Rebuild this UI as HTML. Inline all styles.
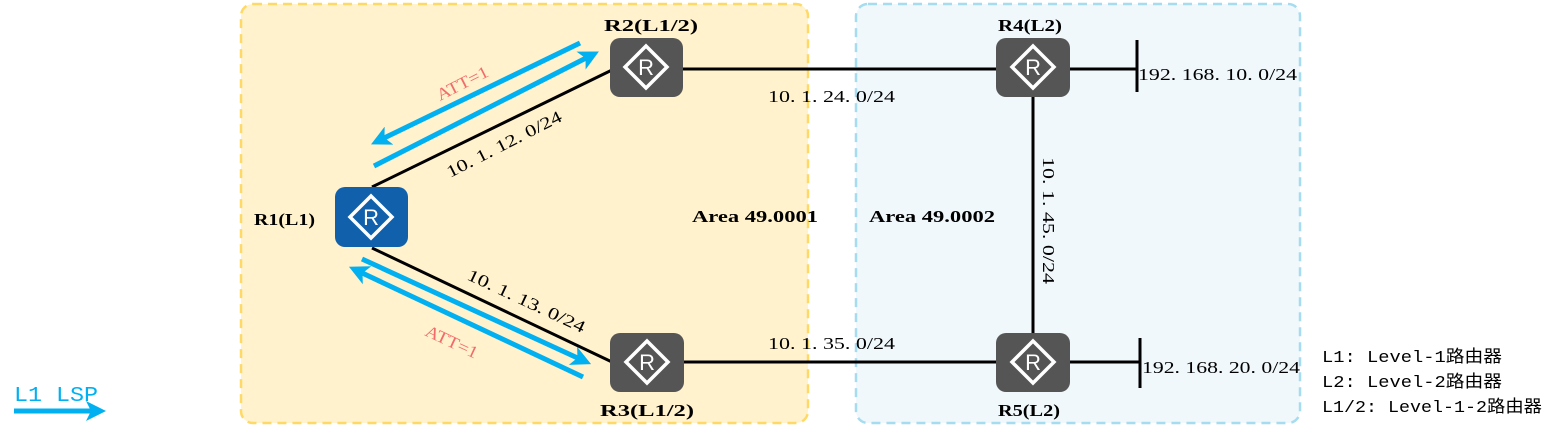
<!DOCTYPE html>
<html><head><meta charset="utf-8"><style>
body{margin:0;background:#fff}
text{font-family:"Liberation Serif","Noto Serif CJK SC",serif;font-size:17px;fill:#000}
.m{font-family:"Liberation Mono","Noto Sans CJK SC",monospace}
.b{font-weight:bold}
</style></head><body>
<svg width="1557" height="425" viewBox="0 0 1557 425" xmlns="http://www.w3.org/2000/svg">
<defs>
<marker id="a" markerWidth="4" markerHeight="4" refX="2" refY="2" orient="auto" markerUnits="strokeWidth"><path d="M0,0 L4,2 L0,4 L1,2 Z" fill="#00b0f0"/></marker>
<g id="rt"><polygon points="0,-21 21,0 0,21 -21,0" fill="none" stroke="#fff" stroke-width="3.5"/><text x="0" y="8" text-anchor="middle" style="font-family:'Liberation Sans',sans-serif;font-size:22px;fill:#fff">R</text></g>
</defs>
<rect x="241" y="4" width="567" height="419" rx="12" fill="#fff2cc" stroke="#ffd966" stroke-width="2.5" stroke-dasharray="9,6"/>
<rect x="856" y="4" width="444" height="419" rx="12" fill="#f0f8fc" stroke="#a6dcf0" stroke-width="2.5" stroke-dasharray="9,6"/>
<g stroke="#000" stroke-width="3" fill="none">
<line x1="372" y1="187" x2="612" y2="70"/>
<line x1="372" y1="248" x2="612" y2="362"/>
<line x1="683" y1="69" x2="996" y2="69"/>
<line x1="684" y1="362" x2="996" y2="362"/>
<line x1="1033" y1="97" x2="1033" y2="333"/>
<line x1="1070" y1="69" x2="1137" y2="69"/>
<line x1="1137" y1="40" x2="1137" y2="92"/>
<line x1="1070" y1="362" x2="1140" y2="362"/>
<line x1="1140" y1="338" x2="1140" y2="388"/>
</g>
<g stroke="#00b0f0" stroke-width="5" fill="none">
<line x1="580" y1="43" x2="380" y2="140" marker-end="url(#a)"/>
<line x1="374" y1="166" x2="590" y2="56" marker-end="url(#a)"/>
<line x1="362" y1="259" x2="582" y2="360" marker-end="url(#a)"/>
<line x1="583" y1="377" x2="358" y2="271" marker-end="url(#a)"/>
<line x1="14" y1="411" x2="96" y2="411" marker-end="url(#a)"/>
</g>
<rect x="335" y="187" width="73" height="60" rx="10" fill="#1060ab"/><use href="#rt" x="371" y="217"/>
<rect x="610" y="38" width="73" height="59" rx="10" fill="#555"/><use href="#rt" x="646" y="67"/>
<rect x="610" y="333" width="74" height="59" rx="10" fill="#555"/><use href="#rt" x="647" y="362"/>
<rect x="996" y="38" width="74" height="59" rx="10" fill="#555"/><use href="#rt" x="1033" y="67"/>
<rect x="996" y="333" width="74" height="59" rx="10" fill="#555"/><use href="#rt" x="1033" y="362"/>
<g lengthAdjust="spacingAndGlyphs">
<text x="254" y="225" class="b" textLength="61" lengthAdjust="spacingAndGlyphs">R1(L1)</text>
<text x="604" y="31" class="b" textLength="94" lengthAdjust="spacingAndGlyphs">R2(L1/2)</text>
<text x="600" y="416" class="b" textLength="94" lengthAdjust="spacingAndGlyphs">R3(L1/2)</text>
<text x="998" y="31" class="b" textLength="64" lengthAdjust="spacingAndGlyphs">R4(L2)</text>
<text x="998" y="416" class="b" textLength="62" lengthAdjust="spacingAndGlyphs">R5(L2)</text>
<text x="692" y="222" class="b" textLength="126" lengthAdjust="spacingAndGlyphs">Area 49.0001</text>
<text x="869" y="222" class="b" textLength="126" lengthAdjust="spacingAndGlyphs">Area 49.0002</text>
<text x="768" y="102" textLength="127" lengthAdjust="spacingAndGlyphs">10. 1. 24. 0/24</text>
<text x="768" y="349" textLength="127" lengthAdjust="spacingAndGlyphs">10. 1. 35. 0/24</text>
<text x="1138" y="80" textLength="159" lengthAdjust="spacingAndGlyphs">192. 168. 10. 0/24</text>
<text x="1142" y="373" textLength="158" lengthAdjust="spacingAndGlyphs">192. 168. 20. 0/24</text>
<text transform="translate(1043,157) rotate(90)" textLength="127" lengthAdjust="spacingAndGlyphs">10. 1. 45. 0/24</text>
<text transform="translate(450,178) rotate(-27)" textLength="127" lengthAdjust="spacingAndGlyphs">10. 1. 12. 0/24</text>
<text transform="translate(466,279) rotate(25)" textLength="128" lengthAdjust="spacingAndGlyphs">10. 1. 13. 0/24</text>
<text transform="translate(440,101) rotate(-27)" style="fill:#f26b6b" textLength="56" lengthAdjust="spacingAndGlyphs">ATT=1</text>
<text transform="translate(424,335) rotate(25)" style="fill:#f26b6b" textLength="56" lengthAdjust="spacingAndGlyphs">ATT=1</text>
<text x="14" y="401" class="m" style="fill:#00b0f0;font-size:21px" textLength="84" lengthAdjust="spacingAndGlyphs">L1 LSP</text>
<text x="1322" y="362" class="m" textLength="180" lengthAdjust="spacingAndGlyphs">L1: Level-1路由器</text>
<text x="1322" y="387" class="m" textLength="180" lengthAdjust="spacingAndGlyphs">L2: Level-2路由器</text>
<text x="1322" y="412" class="m" textLength="220" lengthAdjust="spacingAndGlyphs">L1/2: Level-1-2路由器</text>
</g>
</svg>
</body></html>
